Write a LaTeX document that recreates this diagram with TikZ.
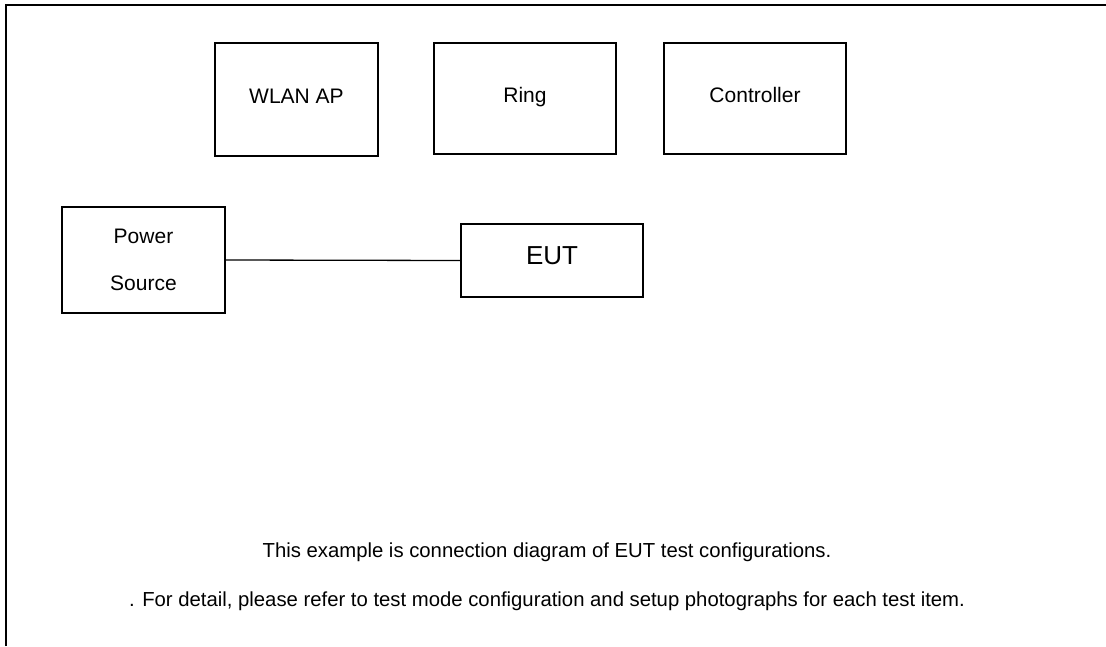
\documentclass[tikz,border=0pt]{standalone}
\usepackage{fontspec}
\setmainfont{Liberation Sans}
\usetikzlibrary{positioning}
\tikzset{unit box/.style={draw, line width=1.2pt, align=center, font=\fontsize{21}{47}\selectfont},
         one line/.style={text height=0.72em, text depth=0pt},
         note text/.style={anchor=base, font=\fontsize{20.3}{24}\selectfont}}

\begin{document}
\begin{tikzpicture}[x=1pt, y=-1pt]
    \useasboundingbox (0,0) rectangle (1106,646);
    % frame
    \draw[line width=2.6pt] (6,646) -- (6,5) -- (1106,5);
    \node[unit box, one line, minimum width=163pt, minimum height=113pt] (ap) at (296.5,99.5) {WLAN AP};
    \node[unit box, one line, minimum width=182pt, minimum height=111pt] (ring) at (525,98.5) {Ring};
    \node[unit box, one line, minimum width=182pt, minimum height=111pt] (ctrl) at (755,98.5) {Controller};
    \node[unit box, minimum width=163pt, minimum height=106pt] (ps) at (143.5,260) {Power\\Source};
    \node[unit box, one line, minimum width=182pt, minimum height=73pt, font=\fontsize{26}{30}\selectfont] (eut) at (552,260.5) {EUT};
\draw[line width=1.3pt] (ps.east) -- (eut.west);
    \node[note text] (note1) at (547,557) {This example is connection diagram of EUT test configurations.};
    \node[note text] (note2) at (547,606) {. For detail, please refer to test mode configuration and setup photographs for each test item.};
\end{tikzpicture}
\end{document}
